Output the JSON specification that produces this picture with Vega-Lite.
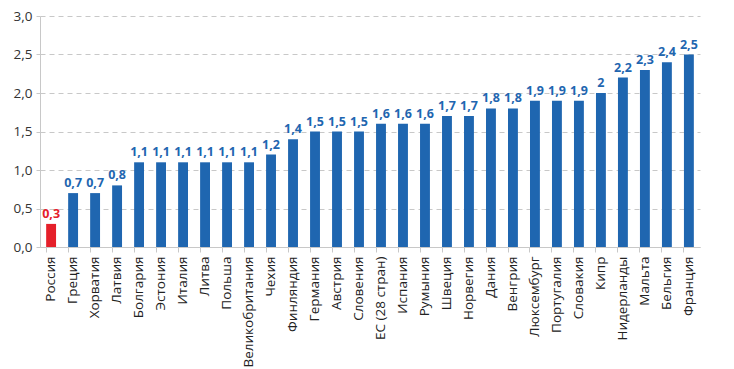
{
  "$schema": "https://vega.github.io/schema/vega-lite/v6.json",
  "autosize": {"type": "none"},
  "width": 660,
  "height": 231,
  "padding": {"left": 40, "top": 16, "right": 34, "bottom": 122},
  "background": "white",
  "config": {"view": {"stroke": null}, "font": "Open Sans"},
  "data": {"values": [
    {"country": "Россия", "value": 0.3, "label": "0,3", "group": "ru"},
    {"country": "Греция", "value": 0.7, "label": "0,7", "group": "eu"},
    {"country": "Хорватия", "value": 0.7, "label": "0,7", "group": "eu"},
    {"country": "Латвия", "value": 0.8, "label": "0,8", "group": "eu"},
    {"country": "Болгария", "value": 1.1, "label": "1,1", "group": "eu"},
    {"country": "Эстония", "value": 1.1, "label": "1,1", "group": "eu"},
    {"country": "Италия", "value": 1.1, "label": "1,1", "group": "eu"},
    {"country": "Литва", "value": 1.1, "label": "1,1", "group": "eu"},
    {"country": "Польша", "value": 1.1, "label": "1,1", "group": "eu"},
    {"country": "Великобритания", "value": 1.1, "label": "1,1", "group": "eu"},
    {"country": "Чехия", "value": 1.2, "label": "1,2", "group": "eu"},
    {"country": "Финляндия", "value": 1.4, "label": "1,4", "group": "eu"},
    {"country": "Германия", "value": 1.5, "label": "1,5", "group": "eu"},
    {"country": "Австрия", "value": 1.5, "label": "1,5", "group": "eu"},
    {"country": "Словения", "value": 1.5, "label": "1,5", "group": "eu"},
    {"country": "ЕС (28 стран)", "value": 1.6, "label": "1,6", "group": "eu"},
    {"country": "Испания", "value": 1.6, "label": "1,6", "group": "eu"},
    {"country": "Румыния", "value": 1.6, "label": "1,6", "group": "eu"},
    {"country": "Швеция", "value": 1.7, "label": "1,7", "group": "eu"},
    {"country": "Норвегия", "value": 1.7, "label": "1,7", "group": "eu"},
    {"country": "Дания", "value": 1.8, "label": "1,8", "group": "eu"},
    {"country": "Венгрия", "value": 1.8, "label": "1,8", "group": "eu"},
    {"country": "Люксембург", "value": 1.9, "label": "1,9", "group": "eu"},
    {"country": "Португалия", "value": 1.9, "label": "1,9", "group": "eu"},
    {"country": "Словакия", "value": 1.9, "label": "1,9", "group": "eu"},
    {"country": "Кипр", "value": 2.0, "label": "2", "group": "eu"},
    {"country": "Нидерланды", "value": 2.2, "label": "2,2", "group": "eu"},
    {"country": "Мальта", "value": 2.3, "label": "2,3", "group": "eu"},
    {"country": "Бельгия", "value": 2.4, "label": "2,4", "group": "eu"},
    {"country": "Франция", "value": 2.5, "label": "2,5", "group": "eu"}
  ]},
  "encoding": {
    "x": {
      "field": "country", "type": "nominal", "sort": null,
      "scale": {"paddingInner": 0.55, "paddingOuter": 0.28},
      "axis": {
        "title": null, "labelAngle": -90, "labelAlign": "right", "labelBaseline": "middle",
        "labelFontSize": 13.5, "labelColor": "#222", "labelPadding": 4,
        "domainColor": "#c8c8c8", "tickColor": "#c8c8c8", "tickSize": 5,
        "bandPosition": 0
      }
    },
    "y": {
      "field": "value", "type": "quantitative",
      "scale": {"domain": [0, 3]},
      "axis": {
        "title": null, "values": [0, 0.5, 1, 1.5, 2, 2.5, 3],
        "labelExpr": "replace(format(datum.value, '.1f'), '.', ',')",
        "labelFontSize": 13.5, "labelColor": "#333", "labelPadding": 4,
        "domainColor": "#c8c8c8", "tickColor": "#c8c8c8", "tickSize": 4,
        "gridColor": "#c8c8c8", "gridDash": [5, 4], "gridWidth": 1
      }
    },
    "color": {
      "field": "group", "type": "nominal",
      "scale": {"domain": ["ru", "eu"], "range": ["#E5202A", "#1F66B0"]},
      "legend": null
    }
  },
  "layer": [
    {"mark": {"type": "bar"}},
    {
      "mark": {"type": "text", "baseline": "bottom", "dy": -3, "fontWeight": "bold", "fontSize": 12.5},
      "encoding": {
        "text": {"field": "label"},
        "color": {
          "field": "group", "type": "nominal",
          "scale": {"domain": ["ru", "eu"], "range": ["#E5202A", "#2E6BB5"]},
          "legend": null
        }
      }
    }
  ]
}
